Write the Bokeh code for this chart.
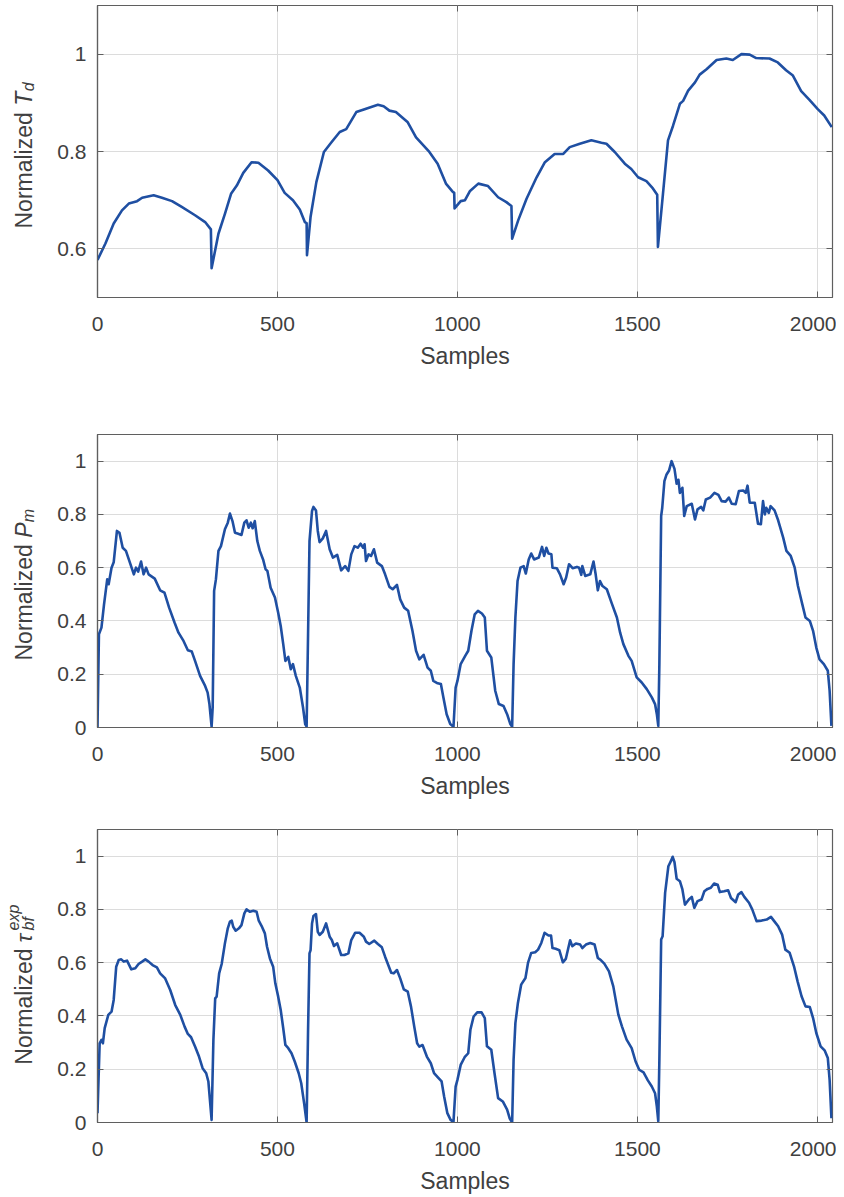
import math
from bokeh.plotting import figure
from bokeh.layouts import column, row
from bokeh.models import Range1d, FixedTicker, CustomJSTickFormatter, LinearAxis
from bokeh.core.properties import value
from bokeh.embed import file_html
from bokeh.resources import INLINE

# ---------------- data ----------------
x_ticks = [0, 500, 1000, 1500, 2000]
td_ticks = [0.6, 0.8, 1.0]
pm_ticks = [0, 0.2, 0.4, 0.6, 0.8, 1.0]
tau_ticks = [0, 0.2, 0.4, 0.6, 0.8, 1.0]

td_points = [
    (0, 0.577), (22, 0.611), (45, 0.652), (68, 0.679), (87, 0.693), (110, 0.698), (124, 0.705),
    (156, 0.710), (179, 0.705), (207, 0.698), (234, 0.686), (271, 0.669), (299, 0.655), (315, 0.640),
    (317, 0.560), (336, 0.631), (354, 0.672), (371, 0.713), (387, 0.730), (405, 0.756), (428, 0.778),
    (447, 0.777), (474, 0.761), (500, 0.741), (520, 0.715), (543, 0.700), (562, 0.681), (576, 0.655),
    (581, 0.653), (582, 0.587), (592, 0.666), (608, 0.737), (629, 0.799), (650, 0.819), (673, 0.840),
    (691, 0.846), (719, 0.881), (742, 0.887), (779, 0.896), (795, 0.893), (811, 0.884), (829, 0.881),
    (862, 0.860), (885, 0.829), (922, 0.799), (945, 0.775), (968, 0.734), (986, 0.718), (991, 0.715),
    (992, 0.683), (1009, 0.698), (1021, 0.700), (1035, 0.719), (1058, 0.734), (1085, 0.729),
    (1113, 0.706), (1136, 0.696), (1150, 0.688), (1152, 0.621), (1169, 0.659), (1192, 0.703),
    (1220, 0.747), (1243, 0.778), (1270, 0.795), (1294, 0.795), (1312, 0.809), (1340, 0.816),
    (1372, 0.823), (1400, 0.818), (1414, 0.816), (1437, 0.799), (1465, 0.775), (1483, 0.764),
    (1502, 0.747), (1525, 0.739), (1543, 0.724), (1555, 0.711), (1557, 0.604), (1571, 0.713),
    (1585, 0.823), (1599, 0.853), (1618, 0.898), (1627, 0.904), (1641, 0.925), (1660, 0.942),
    (1673, 0.958), (1692, 0.969), (1720, 0.988), (1747, 0.991), (1765, 0.988), (1789, 1.000),
    (1812, 0.999), (1830, 0.992), (1867, 0.991), (1890, 0.983), (1913, 0.967), (1932, 0.956),
    (1955, 0.924), (1978, 0.906), (2001, 0.887), (2019, 0.874), (2040, 0.850),
]

pm_points = [
    (0, 0.0), (4, 0.35), (11, 0.375), (18, 0.46), (27, 0.556), (31, 0.538), (39, 0.60), (45, 0.62),
    (54, 0.738), (61, 0.731), (70, 0.675), (79, 0.663), (87, 0.631), (101, 0.575), (107, 0.60),
    (113, 0.585), (121, 0.623), (128, 0.575), (135, 0.60), (142, 0.575), (159, 0.559), (174, 0.515),
    (186, 0.506), (199, 0.45), (214, 0.394), (225, 0.356), (239, 0.325), (251, 0.29), (262, 0.285),
    (271, 0.25), (285, 0.194), (299, 0.156), (306, 0.131), (311, 0.088), (317, 0.003), (320, 0.075),
    (324, 0.513), (329, 0.556), (336, 0.663), (343, 0.681), (354, 0.744), (362, 0.769), (368, 0.803),
    (375, 0.775), (382, 0.731), (389, 0.728), (400, 0.723), (408, 0.769), (414, 0.778), (420, 0.75),
    (426, 0.769), (431, 0.748), (437, 0.775), (444, 0.70), (451, 0.663), (460, 0.631), (467, 0.594),
    (472, 0.588), (481, 0.525), (493, 0.488), (502, 0.431), (509, 0.381), (516, 0.313), (522, 0.25),
    (530, 0.265), (537, 0.219), (543, 0.238), (551, 0.194), (562, 0.15), (571, 0.075), (577, 0.013),
    (581, 0.003), (585, 0.35), (589, 0.70), (596, 0.813), (600, 0.828), (607, 0.815), (612, 0.738),
    (617, 0.696), (626, 0.71), (635, 0.738), (645, 0.669), (654, 0.638), (666, 0.648), (677, 0.59),
    (688, 0.606), (697, 0.588), (705, 0.65), (714, 0.681), (723, 0.675), (731, 0.69), (738, 0.675),
    (742, 0.688), (746, 0.625), (753, 0.65), (760, 0.644), (768, 0.669), (777, 0.619), (790, 0.606),
    (799, 0.575), (811, 0.528), (820, 0.519), (832, 0.535), (841, 0.481), (852, 0.45), (863, 0.438),
    (875, 0.363), (885, 0.288), (894, 0.256), (906, 0.273), (917, 0.225), (926, 0.213), (933, 0.175),
    (945, 0.166), (954, 0.163), (961, 0.113), (970, 0.05), (980, 0.013), (989, 0.003), (995, 0.15),
    (1000, 0.175), (1009, 0.238), (1022, 0.27), (1030, 0.288), (1039, 0.363), (1048, 0.425),
    (1057, 0.438), (1068, 0.428), (1076, 0.413), (1082, 0.288), (1094, 0.263), (1105, 0.138),
    (1115, 0.088), (1128, 0.081), (1138, 0.05), (1147, 0.013), (1152, 0.003), (1156, 0.238),
    (1161, 0.413), (1167, 0.55), (1175, 0.60), (1184, 0.606), (1190, 0.578), (1198, 0.631),
    (1205, 0.653), (1213, 0.631), (1226, 0.638), (1235, 0.678), (1241, 0.644), (1247, 0.675),
    (1253, 0.653), (1261, 0.65), (1264, 0.60), (1276, 0.598), (1285, 0.575), (1295, 0.538),
    (1302, 0.563), (1310, 0.613), (1320, 0.598), (1332, 0.603), (1338, 0.60), (1344, 0.573),
    (1347, 0.606), (1355, 0.569), (1369, 0.575), (1378, 0.623), (1384, 0.575), (1390, 0.515),
    (1396, 0.55), (1403, 0.531), (1415, 0.519), (1429, 0.465), (1443, 0.413), (1452, 0.356),
    (1461, 0.313), (1475, 0.269), (1484, 0.25), (1498, 0.188), (1512, 0.169), (1526, 0.144),
    (1540, 0.113), (1549, 0.088), (1554, 0.05), (1558, 0.006), (1561, 0.238), (1566, 0.794),
    (1569, 0.825), (1575, 0.925), (1581, 0.95), (1588, 0.965), (1595, 1.0), (1603, 0.971),
    (1609, 0.915), (1614, 0.93), (1618, 0.881), (1625, 0.90), (1630, 0.794), (1637, 0.831),
    (1651, 0.84), (1660, 0.781), (1667, 0.819), (1677, 0.828), (1683, 0.815), (1690, 0.856),
    (1702, 0.863), (1714, 0.881), (1725, 0.873), (1734, 0.85), (1745, 0.848), (1754, 0.863),
    (1762, 0.84), (1773, 0.838), (1782, 0.888), (1794, 0.89), (1801, 0.881), (1806, 0.908),
    (1812, 0.844), (1826, 0.844), (1835, 0.765), (1843, 0.763), (1849, 0.85), (1854, 0.80),
    (1858, 0.825), (1865, 0.806), (1870, 0.831), (1881, 0.815), (1891, 0.778), (1905, 0.713),
    (1914, 0.663), (1926, 0.644), (1937, 0.60), (1946, 0.531), (1958, 0.463), (1967, 0.413),
    (1979, 0.40), (1988, 0.363), (1997, 0.30), (2006, 0.256), (2018, 0.238), (2029, 0.213),
    (2034, 0.138), (2039, 0.006),
]

tau_points = [
    (0, 0.035), (6, 0.2975), (11, 0.31), (15, 0.2975), (20, 0.354), (30, 0.404), (39, 0.416),
    (45, 0.46), (52, 0.585), (59, 0.61), (66, 0.6125), (73, 0.604), (82, 0.6075), (94, 0.575),
    (105, 0.579), (114, 0.595), (124, 0.604), (133, 0.6125), (142, 0.604), (153, 0.591),
    (165, 0.5825), (174, 0.56), (188, 0.541), (202, 0.4975), (216, 0.441), (230, 0.404), (242, 0.36),
    (251, 0.3325), (260, 0.32), (271, 0.285), (282, 0.2475), (292, 0.204), (302, 0.185), (308, 0.154),
    (317, 0.01), (322, 0.31), (327, 0.466), (331, 0.4725), (338, 0.56), (345, 0.595), (354, 0.6725),
    (362, 0.729), (368, 0.754), (373, 0.7575), (377, 0.735), (384, 0.72), (393, 0.729), (400, 0.741),
    (408, 0.785), (414, 0.80), (423, 0.791), (433, 0.795), (442, 0.791), (448, 0.7575), (456, 0.7375),
    (465, 0.71), (471, 0.66), (479, 0.616), (488, 0.585), (494, 0.5225), (502, 0.4725), (509, 0.4225),
    (516, 0.354), (522, 0.291), (530, 0.279), (539, 0.26), (548, 0.229), (559, 0.185), (566, 0.1475),
    (574, 0.0725), (581, 0.0), (585, 0.3475), (589, 0.635), (592, 0.6475), (596, 0.7475), (600, 0.775),
    (607, 0.7825), (612, 0.716), (617, 0.704), (626, 0.716), (635, 0.7475), (645, 0.6975), (651, 0.685),
    (657, 0.6625), (666, 0.6725), (677, 0.629), (686, 0.629), (697, 0.635), (705, 0.685), (716, 0.7125),
    (728, 0.7125), (740, 0.6975), (746, 0.679), (755, 0.67), (769, 0.6825), (779, 0.67), (790, 0.6575),
    (799, 0.6225), (816, 0.5625), (823, 0.56), (832, 0.5725), (841, 0.541), (851, 0.50), (862, 0.491),
    (871, 0.435), (880, 0.36), (888, 0.2975), (894, 0.285), (903, 0.291), (915, 0.2475), (926, 0.2225),
    (935, 0.185), (945, 0.17), (956, 0.154), (963, 0.0975), (972, 0.035), (981, 0.01), (989, 0.0025),
    (995, 0.135), (1000, 0.16), (1009, 0.216), (1020, 0.245), (1030, 0.26), (1036, 0.348), (1045, 0.398),
    (1055, 0.4135), (1067, 0.4135), (1076, 0.392), (1082, 0.286), (1094, 0.273), (1103, 0.185),
    (1113, 0.0915), (1126, 0.079), (1138, 0.048), (1145, 0.016), (1152, 0.0), (1156, 0.2355),
    (1161, 0.373), (1168, 0.449), (1177, 0.5175), (1189, 0.5425), (1196, 0.599), (1205, 0.6365),
    (1216, 0.639), (1224, 0.649), (1233, 0.674), (1242, 0.712), (1253, 0.702), (1260, 0.702),
    (1264, 0.655), (1273, 0.652), (1283, 0.647), (1293, 0.6015), (1301, 0.614), (1313, 0.684),
    (1319, 0.662), (1329, 0.672), (1341, 0.668), (1347, 0.655), (1357, 0.668), (1369, 0.674),
    (1381, 0.668), (1390, 0.618), (1399, 0.609), (1408, 0.5965), (1421, 0.5675), (1433, 0.511),
    (1447, 0.405), (1457, 0.361), (1470, 0.311), (1484, 0.2795), (1495, 0.229), (1505, 0.198),
    (1517, 0.188), (1529, 0.158), (1540, 0.135), (1549, 0.11), (1554, 0.06), (1558, 0.004),
    (1561, 0.2355), (1566, 0.687), (1570, 0.699), (1577, 0.862), (1586, 0.962), (1593, 0.981),
    (1598, 0.9975), (1603, 0.977), (1609, 0.915), (1618, 0.906), (1625, 0.875), (1632, 0.818),
    (1643, 0.837), (1651, 0.847), (1658, 0.806), (1667, 0.831), (1678, 0.837), (1686, 0.868),
    (1695, 0.877), (1704, 0.881), (1713, 0.897), (1723, 0.893), (1729, 0.865), (1741, 0.868),
    (1752, 0.872), (1760, 0.843), (1773, 0.827), (1780, 0.856), (1789, 0.865), (1797, 0.847),
    (1810, 0.825), (1819, 0.80), (1831, 0.756), (1845, 0.758), (1859, 0.762), (1871, 0.772),
    (1880, 0.756), (1891, 0.737), (1902, 0.7055), (1911, 0.649), (1923, 0.637), (1935, 0.5865),
    (1945, 0.53), (1956, 0.474), (1967, 0.436), (1979, 0.4335), (1988, 0.392), (1997, 0.336),
    (2009, 0.286), (2020, 0.271), (2029, 0.242), (2034, 0.16), (2039, 0.016),
]

x_label = "Samples"
y_label_main = "Normalized "

# ---------------- style ----------------
FONT = "Liberation Sans"
TXT = "#404040"
AX = "#5f5f5f"
GRID = "#dcdcdc"
LINE = "#1f4fa2"
X_MAX = 2042

LAB_W = 46          # width of the y-label strip
BL, BR = 97 - LAB_W, 4   # main frame left edge at x = 97
MAIN_W = 836 - LAB_W
LAB_X = 23          # x position (strip units) of the rotated label baseline

fmt = CustomJSTickFormatter(code="return (Math.round(tick*10)/10).toString();")


def label_strip(fig_h, page_top, frame_top, frame_bottom, parts, start_py):
    # the strip's frame is aligned with the neighbouring plot's frame, so its
    # y range is expressed directly in page pixel rows (top -> bottom).
    s = figure(width=LAB_W, height=fig_h, output_backend="svg", toolbar_location=None,
               x_range=Range1d(0, LAB_W), y_range=Range1d(frame_bottom, frame_top),
               x_axis_type=None, y_axis_type=None,
               min_border_left=0, min_border_right=0,
               min_border_top=frame_top - page_top,
               min_border_bottom=page_top + fig_h - frame_bottom)
    s.outline_line_color = None
    s.background_fill_color = "white"
    s.border_fill_color = "white"
    pos = start_py
    for text, style, size, off, adv in parts:
        s.text(x=[LAB_X + off], y=[pos], text=[text], angle=math.pi / 2,
               text_font=value(FONT), text_font_size=value(f"{size}px"),
               text_font_style=value(style), text_color=TXT,
               text_align="left", text_baseline="alphabetic")
        pos -= adv
    return s


def make_panel(points, y0, y1, yticks, page_top, frame_top, frame_bottom, fig_h):
    xs = [p[0] for p in points]
    ys = [p[1] for p in points]
    p = figure(width=MAIN_W, height=fig_h, output_backend="svg", toolbar_location=None,
               x_range=Range1d(0, X_MAX), y_range=Range1d(y0, y1),
               min_border_left=BL, min_border_right=BR,
               min_border_top=frame_top - page_top,
               min_border_bottom=page_top + fig_h - frame_bottom)
    p.background_fill_color = "white"
    p.border_fill_color = "white"
    p.outline_line_color = AX
    p.outline_line_width = 1.2

    for ax, ticks in ((p.xaxis[0], x_ticks), (p.yaxis[0], yticks)):
        ax.ticker = FixedTicker(ticks=ticks)
        ax.formatter = fmt
        ax.major_tick_in = 6
        ax.major_tick_out = 0
        ax.minor_tick_line_color = None
        ax.major_tick_line_color = AX
        ax.axis_line_color = AX
        ax.axis_line_width = 1.2
        ax.major_label_text_font = FONT
        ax.major_label_text_font_size = "21px"
        ax.major_label_text_color = TXT
    p.xaxis[0].major_label_standoff = 19
    p.yaxis[0].major_label_standoff = 11
    p.xaxis[0].axis_label = x_label
    p.xaxis[0].axis_label_text_font = FONT
    p.xaxis[0].axis_label_text_font_size = "23px"
    p.xaxis[0].axis_label_text_font_style = "normal"
    p.xaxis[0].axis_label_text_color = TXT
    p.xaxis[0].axis_label_standoff = 9

    for loc, ticks in (("above", x_ticks), ("right", yticks)):
        a = LinearAxis(ticker=FixedTicker(ticks=ticks),
                       formatter=CustomJSTickFormatter(code="return '';"),
                       major_tick_in=6, major_tick_out=0, minor_tick_line_color=None,
                       major_tick_line_color=AX, axis_line_color=None,
                       major_label_text_font_size="0px", major_label_standoff=0)
        p.add_layout(a, loc)

    p.xgrid.ticker = FixedTicker(ticks=x_ticks)
    p.ygrid.ticker = FixedTicker(ticks=yticks)
    p.xgrid.grid_line_color = GRID
    p.ygrid.grid_line_color = GRID
    p.xgrid.grid_line_width = 1
    p.ygrid.grid_line_width = 1

    p.line(xs, ys, line_color=LINE, line_width=2.6, line_join="round")
    return p


# panel 1
h1 = 380
p1 = make_panel(td_points, 0.5, 1.1, td_ticks, 0, 5, 297, h1)
s1 = label_strip(h1, 0, 5, 297,
                 [(y_label_main, "normal", 23, 0, 122.7), ("T", "italic", 23, 0, 14.5),
                  ("d", "italic", 16, 5, 9)], 228)
# panel 2
h2 = 430
p2 = make_panel(pm_points, 0.0, 1.1, pm_ticks, 380, 434, 727, h2)
s2 = label_strip(h2, 380, 434, 727,
                 [(y_label_main, "normal", 23, 0, 122.7), ("P", "italic", 23, 0, 15.5),
                  ("m", "italic", 16, 5, 13)], 660)
# panel 3
h3 = 386
p3 = make_panel(tau_points, 0.0, 1.1, tau_ticks, 810, 829, 1123, h3)
s3 = label_strip(h3, 810, 829, 1123,
                 [(y_label_main, "normal", 23, 0, 122.7), ("\u03c4", "italic", 23, 0, 12),
                  ("bf", "italic", 16, 5, 0), ("exp", "italic", 16, -10, 26)], 1065)

layout = column(row(s1, p1, spacing=0), row(s2, p2, spacing=0), row(s3, p3, spacing=0), spacing=0)
open("out.html", "w").write(file_html(layout, INLINE))
